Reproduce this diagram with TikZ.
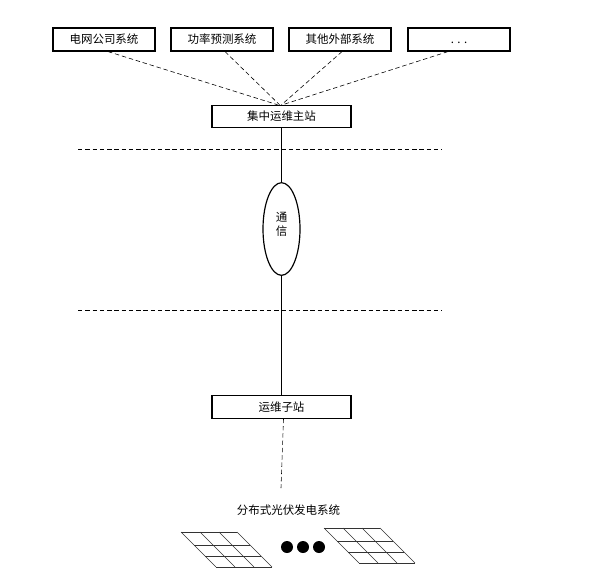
\documentclass[tikz,border=0pt]{standalone}
\usepackage{fontspec}
\setmainfont{Noto Sans CJK SC}
\usetikzlibrary{calc,shapes.geometric}
\tikzset{
  sysbox/.style={draw, line width=1pt, fill=white, minimum width=3.06cm, minimum height=0.69cm, inner sep=0pt, text height=8.4pt, text depth=1pt, font=\fontsize{9.8}{12}\selectfont},
  stationbox/.style={sysbox, minimum width=4.17cm, minimum height=0.67cm},
  commnode/.style={draw, line width=1pt, ellipse, minimum width=1.11cm, minimum height=2.78cm, inner sep=0pt},
  commtext/.style={inner sep=0pt, align=center, font=\fontsize{9.8}{12}\selectfont},
  dotnode/.style={circle, fill=black, minimum size=0.36cm, inner sep=0pt},
  dashline/.style={dash pattern=on 3.8pt off 2.4pt, line width=0.5pt},
  gridline/.style={line width=0.45pt, draw=black!80},
  pvpanel/.pic={
    \foreach \y in {0,13,24,35} {
      \draw[gridline] (\y,\y) -- (\y+56,\y);
    }
    \foreach \x in {0,19,38,56} {
      \draw[gridline] (\x,0) -- (\x+35,35);
    }
  }
}
\begin{document}
\begin{tikzpicture}[x=0.03cm,y=-0.03cm]
  \useasboundingbox (0,0) rectangle (591,578);
  \foreach \n/\x/\t in {grid/104/电网公司系统,power/222/功率预测系统,other/340/其他外部系统,more/459/. . .} {
    \node[sysbox] (\n) at (\x,39.5) {\t};
  }
  \node[stationbox] (master) at (281.5,116.5) {集中运维主站};
  \node[stationbox] (sub) at (281.5,407) {运维子站};
  \node[commnode, fill=white] (comm) at (281.5,229) {};
  \node[commtext] (commlabel) at (281.5,224) {通\\信};
  \coordinate (sink) at (281,488);
  \coordinate (la) at (78,149.5);
  \coordinate (lb) at (442,149.5);
  \coordinate (lc) at (78,310);
  \coordinate (ld) at (442,310);
  \foreach \n/\d/\e in {grid/4/-4,power/3/-2,other/2/0,more/-11/1} {
    \draw[dashline] ($(\n.south)+(\d,0)$) -- ($(master.north)+(\e,0)$);
  }
  \draw[line width=0.5pt] (master) -- (comm);
  \draw[line width=0.5pt] (comm) -- (sub);
  \draw[dashline] ($(sub.south)+(2,0)$) -- (sink);
  \draw[dashline] (la) -- (lb);
  \draw[dashline] (lc) -- (ld);
  \node[font=\fontsize{9.8}{12}\selectfont] (pvtitle) at (288.5,510) {分布式光伏发电系统};
  \pic at (181,532) {pvpanel};
  \pic at (324,528) {pvpanel};
  \foreach \n/\x in {dota/287,dotb/303,dotc/319} {
    \node[dotnode] (\n) at (\x,547) {};
  }
\end{tikzpicture}
\end{document}
